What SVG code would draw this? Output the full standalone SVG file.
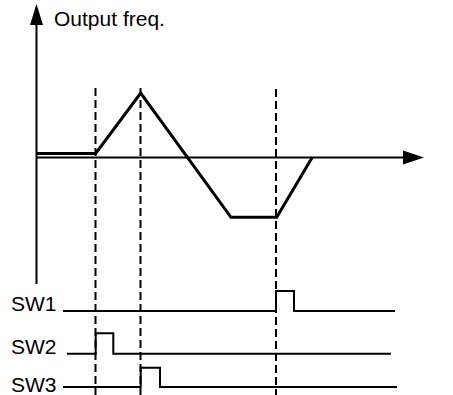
<svg xmlns="http://www.w3.org/2000/svg" width="453" height="395" viewBox="0 0 453 395">
<style>
text{font-family:"Liberation Sans",Arial,sans-serif;font-size:21px;fill:#000}
.ax{stroke:#000;stroke-width:2;fill:none}
.dash{stroke:#000;stroke-width:2;stroke-dasharray:8,4;fill:none}
.sig{stroke:#000;stroke-width:2;fill:none}
.out{stroke:#000;stroke-width:3;fill:none;stroke-linejoin:miter}
</style>
<rect width="453" height="395" fill="#fff"/>
<g id="axes">
<line class="ax" x1="36.5" y1="284" x2="36.5" y2="22"/>
<polygon points="36.5,4 30,25 43,25" fill="#000"/>
<line class="ax" x1="36" y1="157.5" x2="406" y2="157.5"/>
<polygon points="424,157.5 403,150.5 403,164.5" fill="#000"/>
<text x="54" y="26">Output freq.</text>
</g>
<g id="guides">
<line class="dash" x1="95.5" y1="88" x2="95.5" y2="395"/>
<line class="dash" x1="140.5" y1="88" x2="140.5" y2="395"/>
<line class="dash" x1="276" y1="89" x2="276" y2="395"/>
</g>
<g id="output">
<polyline class="out" points="36,153.5 95.7,153.5 140.7,93 231,217.3 276.7,217.3 312.3,157.3"/>
</g>
<g id="sw1">
<text x="11" y="311">SW1</text>
<polyline class="sig" points="63,311 276,311 276,291 294,291 294,311 395,311"/>
</g>
<g id="sw2">
<text x="11" y="354">SW2</text>
<polyline class="sig" points="67,353.7 95.7,353.7 95.7,333.3 113.3,333.3 113.3,353.7 391,353.7"/>
</g>
<g id="sw3">
<text x="11" y="391.5">SW3</text>
<polyline class="sig" points="63,387 140.7,387 140.7,367.7 160,367.7 160,387 397,387"/>
</g>
</svg>
